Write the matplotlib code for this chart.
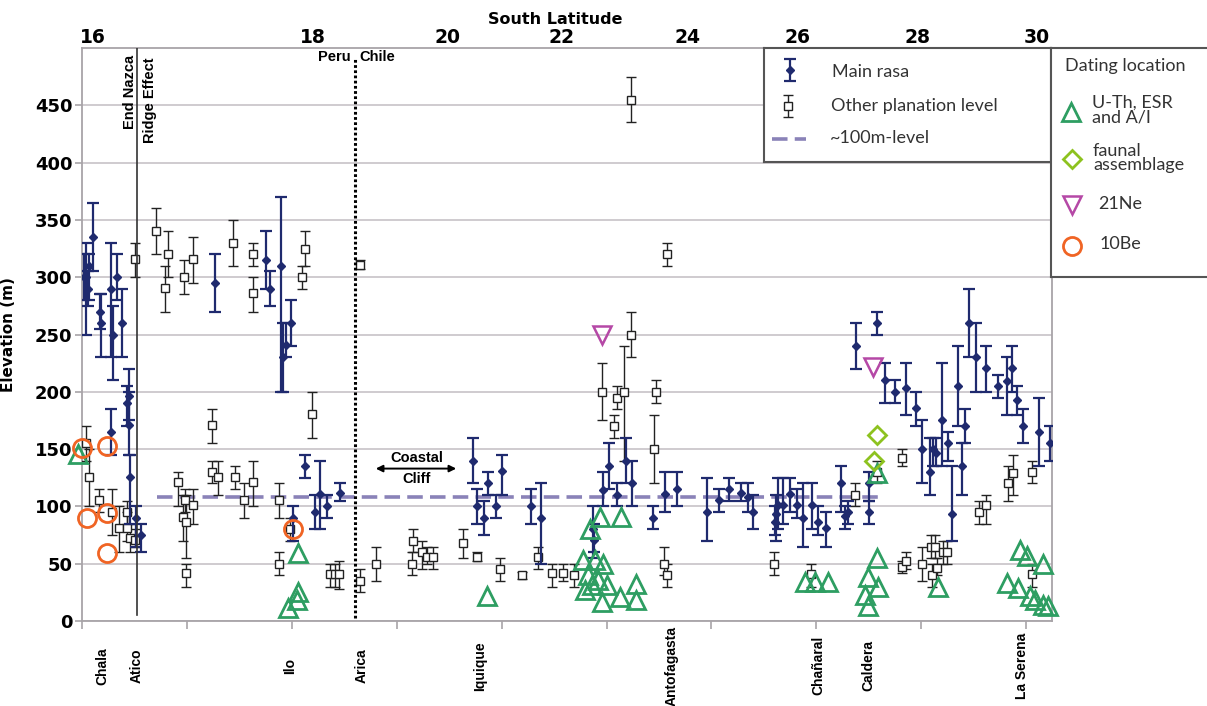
import numpy as np
import matplotlib
matplotlib.use('Agg')
import matplotlib.pyplot as plt
import matplotlib.transforms as mtransforms

# position along the coast (chart units, left edge = 0) and elevation (m)
rasa_x = [2, 4, 6, 7, 11, 18, 19, 29, 31, 35, 40, 29, 45, 47, 47, 48, 54, 59,
          133, 184, 188, 199, 201, 204, 209, 223, 211, 233, 238, 245, 258,
          391, 395, 402, 406, 414, 420, 449, 459, 511, 512, 521, 527, 535, 544, 550,
          571, 583, 595, 625, 637, 647, 659, 666, 671, 693, 694, 696, 701, 708, 715,
          721, 730, 736, 744, 759, 763, 766, 774, 787, 787, 795, 803, 813, 824, 834,
          840, 848, 851, 854, 860, 866, 870, 876, 880, 883, 887, 894, 904, 916, 925,
          930, 935, 941, 957, 968]
rasa_y = [300, 300, 290, 310, 335, 270, 260, 290, 250, 300, 260, 165, 190, 196, 171, 126, 90, 75,
          295, 315, 290, 310, 230, 241, 260, 135, 90, 95, 111, 100, 112,
          140, 100, 90, 120, 100, 131, 100, 90, 80, 71, 114, 135, 110, 140, 120,
          90, 111, 115, 95, 106, 115, 112, 108, 95, 86, 93, 101, 101, 111, 101,
          90, 101, 86, 81, 120, 92, 95, 240, 120, 95, 260, 210, 200, 203, 186,
          150, 130, 150, 147, 175, 155, 93, 205, 135, 170, 260, 230, 221, 205, 209,
          221, 193, 170, 165, 155]
rasa_lo = [280, 250, 275, 280, 305, 255, 230, 230, 210, 280, 230, 145, 170, 175, 145, 85, 65, 60,
           270, 290, 275, 200, 200, 230, 240, 125, 70, 80, 80, 90, 105,
           120, 85, 75, 110, 90, 110, 85, 50, 55, 60, 100, 115, 100, 120, 100,
           80, 95, 100, 70, 95, 105, 105, 95, 80, 75, 70, 80, 85, 95, 90,
           65, 80, 75, 65, 95, 80, 85, 220, 105, 85, 250, 190, 190, 180, 170,
           120, 110, 135, 135, 135, 140, 70, 170, 110, 155, 230, 200, 200, 195, 180,
           200, 180, 155, 135, 140]
rasa_hi = [320, 330, 305, 320, 365, 285, 285, 330, 275, 320, 290, 185, 205, 220, 200, 145, 100, 85,
           320, 340, 305, 370, 260, 260, 280, 145, 100, 110, 140, 110, 120,
           160, 115, 105, 130, 110, 145, 115, 120, 100, 85, 130, 155, 120, 160, 140,
           100, 130, 130, 125, 115, 125, 120, 120, 110, 100, 110, 125, 125, 125, 115,
           120, 120, 100, 95, 135, 100, 105, 260, 130, 105, 270, 225, 210, 225, 200,
           175, 160, 160, 160, 225, 165, 135, 240, 155, 185, 290, 260, 240, 215, 230,
           240, 205, 185, 195, 170]

other_x = [4, 7, 17, 30, 37, 45, 45, 48, 53, 53, 74, 86, 83, 102, 111, 151, 130, 130, 136, 153,
           96, 101, 103, 104, 111, 104, 162, 171, 171, 171, 197, 197, 208, 220, 223, 230, 248, 253, 257, 278,
           278, 294, 330, 331, 340, 345, 351, 381, 395, 418, 440, 456, 470, 481, 492, 520, 532, 535, 542, 549,
           549, 572, 574, 585, 582, 585, 692, 729, 773, 795, 820, 820, 824, 840, 849, 853, 850, 855, 861, 865,
           897, 904, 926, 931, 950, 950]
other_y = [155, 126, 106, 95, 81, 95, 81, 72, 71, 316, 340, 320, 291, 300, 316, 330, 171, 130, 126, 126,
           121, 91, 106, 86, 101, 42, 106, 121, 320, 286, 106, 50, 80, 300, 325, 181, 41, 41, 41, 35,
           311, 50, 50, 70, 60, 56, 56, 68, 56, 45, 40, 56, 42, 42, 40, 200, 170, 195, 200, 250,
           455, 150, 200, 320, 50, 40, 50, 41, 110, 130, 142, 47, 52, 50, 65, 65, 40, 46, 60, 60,
           95, 101, 120, 129, 130, 41]
other_lo = [140, 100, 95, 75, 60, 85, 70, 60, 65, 300, 320, 300, 270, 285, 295, 310, 155, 120, 110, 115,
            100, 70, 95, 55, 85, 30, 90, 100, 310, 270, 90, 40, 70, 290, 310, 160, 30, 30, 28, 25,
            307, 35, 40, 60, 45, 50, 45, 55, 52, 35, 37, 45, 30, 35, 30, 175, 160, 185, 140, 230,
            435, 120, 190, 310, 40, 30, 40, 30, 100, 120, 135, 42, 45, 35, 55, 55, 30, 40, 50, 50,
            85, 85, 105, 110, 120, 30]
other_hi = [170, 150, 115, 115, 100, 105, 95, 85, 80, 330, 360, 340, 310, 315, 335, 350, 185, 140, 140, 135,
            130, 110, 115, 110, 115, 50, 120, 140, 330, 300, 120, 60, 90, 310, 340, 200, 50, 50, 52, 45,
            315, 65, 60, 80, 70, 65, 65, 80, 60, 55, 43, 65, 50, 50, 50, 225, 180, 205, 240, 270,
            475, 180, 210, 330, 65, 50, 60, 50, 120, 140, 150, 52, 60, 65, 75, 75, 50, 55, 70, 70,
            105, 110, 135, 145, 140, 50]

# dating locations
uth_x = [-4, 216, 216, 215, 206, 405, 508, 518, 539, 501, 513, 521, 506, 516, 503, 520, 538, 554, 554, 525,
         510, 723, 733, 746, 795, 795, 786, 796, 783, 786, 856, 938, 945, 961, 925, 936, 948, 953, 961, 966]
uth_y = [146, 59, 25, 18, 11, 22, 80, 91, 91, 53, 53, 50, 40, 36, 27, 17, 21, 32, 18, 31,
         31, 34, 34, 34, 55, 129, 38, 30, 23, 13, 30, 62, 57, 50, 33, 29, 22, 18, 14, 13]
faunal_x = [795, 792]
faunal_y = [162, 140]
ne_x = [520, 791]
ne_y = [250, 222]
be_x = [0, 5, 25, 25, 25, 211]
be_y = [151, 90, 94, 59, 153, 80]

# ~100 m level
level_x = [75, 798]
level_y = 108

lat_pos = [11, 231, 365, 480, 605, 716, 836, 955]
lat_labels = ['16', '18', '20', '22', '24', '26', '28', '30']

towns = ['Chala', 'Atico', 'Ilo', 'Arica', 'Iquique', 'Antofagasta', 'Chañaral', 'Caldera', 'La Serena']
town_x = [20, 55, 208, 280, 398, 590, 736, 786, 940]

nazca_x = 55
border_x = 273

navy = '#1f2a6e'
dark = '#222222'
green = '#2e9e62'
lime = '#8dc21f'
magenta = '#b548a6'
orange = '#f06424'
purple = '#8a82b8'
gridc = '#cbc7cb'

W, H = 1207, 706
fig = plt.figure(figsize=(W / 100, H / 100), dpi=100)
ax = fig.add_axes([82 / W, 1 - 621 / H, 970 / W, 573 / H])
ax.set_xlim(0, 970)
ax.set_ylim(0, 500)

# grid and axes
ax.set_yticks(range(0, 451, 50))
ax.yaxis.grid(True, color=gridc, lw=1.3)
ax.set_axisbelow(True)
for s in ax.spines.values():
    s.set_color('#a8a4a8')
    s.set_linewidth(1.3)
ax.set_xticks(np.arange(0, 950, 104.9))
ax.set_xticklabels([])
ax.tick_params(axis='x', length=6, color='#a8a4a8', width=1.2)
ax.tick_params(axis='y', length=5, color='#a8a4a8', width=1.2, pad=2)
for lab in ax.get_yticklabels():
    lab.set_fontweight('bold')
    lab.set_fontsize(13)
ax.set_ylabel('Elevation (m)', fontsize=11, fontweight='bold')
ax.yaxis.set_label_coords(-0.068, 0.5)

# data
other_err = [np.array(other_y) - np.array(other_lo), np.array(other_hi) - np.array(other_y)]
ax.errorbar(other_x, other_y, yerr=other_err, fmt='s', color=dark, mfc='white', mec=dark,
            ms=5.5, mew=1, capsize=3.5, elinewidth=1, capthick=1, zorder=3)
rasa_err = [np.array(rasa_y) - np.array(rasa_lo), np.array(rasa_hi) - np.array(rasa_y)]
ax.errorbar(rasa_x, rasa_y, yerr=rasa_err, fmt='D', color=navy, ms=4.5,
            capsize=4.5, elinewidth=1.6, capthick=1.6, zorder=4)

ax.plot(level_x, [level_y, level_y], color=purple, lw=2.6, dashes=(4.3, 2), zorder=2)

ax.plot(uth_x, uth_y, '^', ms=13, mfc='none', mec=green, mew=2, zorder=6, clip_on=False)
ax.plot(faunal_x, faunal_y, 'D', ms=9.5, mfc='none', mec=lime, mew=2, zorder=6)
ax.plot(ne_x, ne_y, 'v', ms=13, mfc='none', mec=magenta, mew=1.8, zorder=6)
ax.plot(be_x, be_y, 'o', ms=13, mfc='none', mec=orange, mew=2, zorder=6, clip_on=False)

# reference lines and annotations
ann = dict(fontsize=10.5, fontweight='bold', family='Liberation Sans')
ax.plot([nazca_x, nazca_x], [5, 500], color='#333333', lw=1.2, zorder=5)
ax.text(nazca_x - 7, 494, 'End Nazca', rotation=90, ha='center', va='top', **ann)
ax.text(nazca_x + 13, 492, 'Ridge Effect', rotation=90, ha='center', va='top', **ann)
ax.plot([border_x, border_x], [3, 490], color='black', lw=2.2, dashes=(0.9, 0.8),
        dash_capstyle='butt', zorder=5)
ax.text(border_x - 4, 492, 'Peru', ha='right', va='center', **ann)
ax.text(border_x + 4, 492, 'Chile', ha='left', va='center', **ann)
ax.annotate('', xy=(291, 133), xytext=(377, 133),
            arrowprops=dict(arrowstyle='<|-|>', color='black', lw=1.4, mutation_scale=10))
ax.text(335, 142, 'Coastal', ha='center', va='center', **ann)
ax.text(335, 124, 'Cliff', ha='center', va='center', **ann)

trans = mtransforms.blended_transform_factory(ax.transData, ax.transAxes)
for name, tx in zip(towns, town_x):
    ax.text(tx, -0.078, name, rotation=90, ha='center', va='center', transform=trans,
            fontsize=10, fontweight='bold', family='Liberation Sans', clip_on=False)

# top latitude axis
top = ax.twiny()
top.set_xlim(ax.get_xlim())
top.set_xticks(lat_pos)
top.set_xticklabels(lat_labels, fontsize=13.5, fontweight='bold')
top.tick_params(axis='x', length=0, pad=1)
for s in top.spines.values():
    s.set_visible(False)
fig.text(555 / W, 1 - 19 / H, 'South Latitude', ha='center', va='center',
         fontsize=11.5, fontweight='bold')

# legend 1
lfont = dict(family='Lato', fontsize=13, color='#333333')
lax = fig.add_axes([764 / W, 1 - 162 / H, 287 / W, 114 / H])
lax.set_xlim(764, 1051)
lax.set_ylim(162, 48)
lax.set_xticks([])
lax.set_yticks([])
for s in lax.spines.values():
    s.set_color('#555555')
    s.set_linewidth(1.5)
lax.errorbar([790], [70], yerr=[[11], [11]], fmt='D', color=navy, ms=4.5,
             capsize=4.5, elinewidth=1.6, capthick=1.6)
lax.text(832, 72, 'Main rasa', ha='left', va='center', **lfont)
lax.errorbar([788], [106], yerr=[[11], [11]], fmt='s', color=dark, mfc='white', mec=dark,
             ms=5.5, mew=1, capsize=3.5, elinewidth=1, capthick=1)
lax.text(831, 106, 'Other planation level', ha='left', va='center', **lfont)
lax.plot([772, 806], [139, 139], color=purple, lw=2.6, dashes=(4.3, 2))
lax.text(830, 138, '~100m-level', ha='left', va='center', **lfont)

# legend 2
dax = fig.add_axes([1051 / W, 1 - 277 / H, 170 / W, 229 / H])
dax.set_xlim(1051, 1221)
dax.set_ylim(277, 48)
dax.set_xticks([])
dax.set_yticks([])
for s in dax.spines.values():
    s.set_color('#555555')
    s.set_linewidth(1.5)
dax.text(1065, 66, 'Dating location', ha='left', va='center', **lfont)
dax.plot([1071], [112], '^', ms=13, mfc='none', mec=green, mew=2)
dax.text(1092, 110, 'U-Th, ESR\nand A/I', ha='left', va='center', linespacing=0.85, **lfont)
dax.plot([1072], [159], 'D', ms=9.5, mfc='none', mec=lime, mew=2)
dax.text(1093, 158, 'faunal\nassemblage', ha='left', va='center', linespacing=0.85, **lfont)
dax.plot([1072], [205], 'v', ms=13, mfc='none', mec=magenta, mew=1.8)
dax.text(1098, 204, '21Ne', ha='left', va='center', **lfont)
dax.plot([1072], [246], 'o', ms=13, mfc='none', mec=orange, mew=2)
dax.text(1100, 244, '10Be', ha='left', va='center', **lfont)

fig.savefig('out.png', dpi=100)
